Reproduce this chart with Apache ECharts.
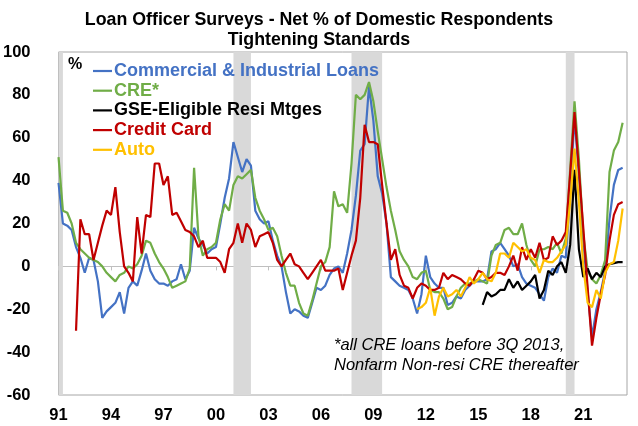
<!DOCTYPE html>
<html><head><meta charset="utf-8">
<script src="https://cdn.jsdelivr.net/npm/echarts@6/dist/echarts.min.js"></script>
<style>html,body{margin:0;padding:0;background:#fff}#c{width:638px;height:426px}</style>
</head><body><div id="c"></div>
<script>
const FONT = '"Liberation Sans", Arial, sans-serif';

// Quarterly categories 1991Q1 .. 2023Q3
const quarters = [];
for (let y = 1991; y <= 2023; y++) for (let q = 1; q <= 4; q++) { if (y === 2023 && q > 3) break; quarters.push(y + 'Q' + q); }

const tickLabels = ['91','94','97','00','03','06','09','12','15','18','21'];

const seriesNames = ['Commercial & Industrial Loans','CRE*','GSE-Eligible Resi Mtges','Credit Card','Auto'];
const seriesColors = ['#4472C4','#70AD47','#000000','#C00000','#FFC000'];

// C&I loans, from 1991Q1
const ciStart = '1991Q1';
const ciValues = [39,20,19,17,9,4,-3,4,3,-7,
 -24,-21,-19,-17,-12,-22,-10,-7,-9,-2,
 6,-2,-6,-8,-8,-9,-7,-6,1,-6,
 -2,18,13,10,6,8,9,20,32,41,
 58,51,44,50,47,26,22,20,21,12,
 5,0,-12,-22,-20,-21,-23,-24,-17,-10,
 -11,-9,-4,-1,0,-3,6,17,33,54,
 57,84,68,42,34,20,-5,-7,-9,-10,
 -11,-15,-22,-13,5,-5,-8,-10,-10,-18,
 -17,-14,-15,-11,-9,-7,-7,-7,-6,7,
 8,11,8,5,0,1,-5,-8,-9,-10,
 -13,-16,-5,-1,-3,5,4,35,70,42,
 12,-12,-33,-20,-12,-2,22,38,45,46];

// CRE, from 1991Q1
const creStart = '1991Q1';
const creValues = [51,26,25,20,11,8,6,4,3,2,
 0,-3,-5,-7,-4,-3,0,-1,1,5,
 12,11,6,2,-1,-5,-10,-9,-8,-7,
 -1,46,14,5,8,9,11,22,29,26,
 38,42,41,43,45,32,26,22,17,18,
 14,5,-3,-9,-9,-17,-22,-23,-16,-8,
 0,2,9,35,28,29,25,48,80,78,
 80,86,77,63,50,37,26,17,7,3,
 0,-5,-6,-3,-2,-11,-12,-12,-15,-20,
 -19,-14,-10,-8,-8,-7,-6,-7,-8,5,
 10,11,17,18,15,15,20,10,3,0,
 8,8,9,8,11,6,13,45,77,50,
 15,-2,-6,-8,-4,3,44,54,58,67];

// GSE-eligible residential mortgages, from 2015Q2
const gseStart = '2015Q2';
const gseValues = [-18,-12,-14,-13,-11,-11,-6,-10,-7,-11,
 -9,-7,-4,-15,-11,-2,-4,0,2,-3,
 10,45,8,-5,-1,-6,-3,-5,0,1,
 1.5,2,2];

// Credit card, from 1992Q1
const ccStart = '1992Q1';
const ccValues = [-30,22,15,15,3,11,19,26,24,37,
 16,0,-3,-7,23,6,24,23,48,48,
 38,42,24,25,21,17,16,14,9,12,
 4,4,4,2,-3,8,11,20,11,20,
 17,9,14,15,16,11,3,0,3,6,
 1,0,-3,-6,-3,0,3,-2,-2,-2,
 -1,-11,-3,5,12,32,66,58,58,57,
 38,20,3,8,-4,-9,-10,-15,-10,-8,
 -9,-11,-11,-10,-3,-6,-4,-5,-6,-8,
 -9,-6,-2,-3,-6,-5,-3,-3,-4,0,
 5,-2,9,3,8,4,11,3,4,14,
 10,12,16,43,72,45,18,-10,-37,-24,
 -13,-4,12,24,29,30];

// Auto, from 2011Q3
const autoStart = '2011Q3';
const autoValues = [-20,-19,-17,-10,-23,-14,-10,-14,-13,-11,
 -14,-10,-5,-8,-6,-3,-6,-7,-3,6,
 6,4,11,9,7,8,4,3,-3,3,
 2,2,4,7,10,30,55,30,0,-17,
 -19,-11,-15,-3,1,2,12,27];

// Recession bands (start, end quarter)
const recessions = [['1991Q1','1991Q2'],['2001Q1','2002Q1'],['2007Q4','2009Q3'],['2020Q1','2020Q3']];

function full(start, vals) {
  const s = quarters.indexOf(start);
  return quarters.map((q, i) => (i >= s && i - s < vals.length) ? vals[i - s] : null);
}
const dataSets = [full(ciStart, ciValues), full(creStart, creValues), full(gseStart, gseValues), full(ccStart, ccValues), full(autoStart, autoValues)];

const chart = echarts.init(document.getElementById('c'), null, {renderer: 'canvas'});
const series = [{
  type: 'line', data: [], z: 1, silent: true,
  markArea: { silent: true, itemStyle: { color: '#d9d9d9' }, data: recessions.map(r => [{ xAxis: r[0] }, { xAxis: r[1] }]) }
}];
seriesNames.forEach((n, i) => series.push({
  name: n, type: 'line', data: dataSets[i], symbol: 'none', connectNulls: false, z: 3 + i,
  lineStyle: { color: seriesColors[i], width: 2.2 }, itemStyle: { color: seriesColors[i] }
}));

// Legend drawn as graphic elements (line sample + coloured text)
const legendGraphics = [];
seriesNames.forEach((n, i) => {
  const y = 71 + i * 19.7;
  legendGraphics.push({ type: 'line', z: 100, shape: { x1: 93, y1: y, x2: 112, y2: y }, style: { stroke: seriesColors[i], lineWidth: 2.2 } });
  legendGraphics.push({ type: 'text', z: 100, x: 114, y: y, style: { text: n, font: 'bold 18px ' + FONT, fill: seriesColors[i], textVerticalAlign: 'middle', verticalAlign: 'middle' } });
});

chart.setOption({
  animation: false,
  backgroundColor: '#ffffff',
  title: {
    text: 'Loan Officer Surveys - Net % of Domestic Respondents\nTightening Standards',
    left: 'center', top: 5,
    textStyle: { fontFamily: FONT, fontSize: 17.8, fontWeight: 'bold', color: '#000', lineHeight: 20 }
  },
  grid: { left: 58, right: 11, top: 52, bottom: 31, show: true, borderColor: '#a6a6a6', borderWidth: 1, backgroundColor: 'transparent' },
  xAxis: [{
    type: 'category', data: quarters, boundaryGap: false,
    axisLine: { onZero: true, lineStyle: { color: '#bfbfbf', width: 1 } },
    axisTick: { show: true, interval: 11, length: 4, lineStyle: { color: '#bfbfbf' } },
    axisLabel: { show: false }, splitLine: { show: false }
  }, {
    type: 'category', data: quarters, boundaryGap: false, position: 'bottom',
    axisLine: { show: false, onZero: false }, axisTick: { show: false }, splitLine: { show: false },
    axisLabel: { interval: 11, margin: 12, fontFamily: FONT, fontSize: 16.5, fontWeight: 'bold', color: '#000',
      formatter: (v, idx) => tickLabels[Math.round(idx / 12)] || '' }
  }],
  yAxis: {
    type: 'value', min: -60, max: 100, interval: 20,
    axisLine: { show: false }, axisTick: { show: false }, splitLine: { show: false },
    axisLabel: { margin: 28, fontFamily: FONT, fontSize: 16.5, fontWeight: 'bold', color: '#000' }
  },
  graphic: [
    { type: 'text', z: 100, left: 68, top: 57, style: { text: '%', font: 'bold 16px ' + FONT, fill: '#000' } },
    { type: 'text', z: 100, left: 334, top: 335, style: { text: '*all CRE loans before 3Q 2013,\nNonfarm Non-resi CRE thereafter', font: 'italic 16.5px ' + FONT, fill: '#000', lineHeight: 20 } }
  ].concat(legendGraphics),
  series: series
});
</script></body></html>
